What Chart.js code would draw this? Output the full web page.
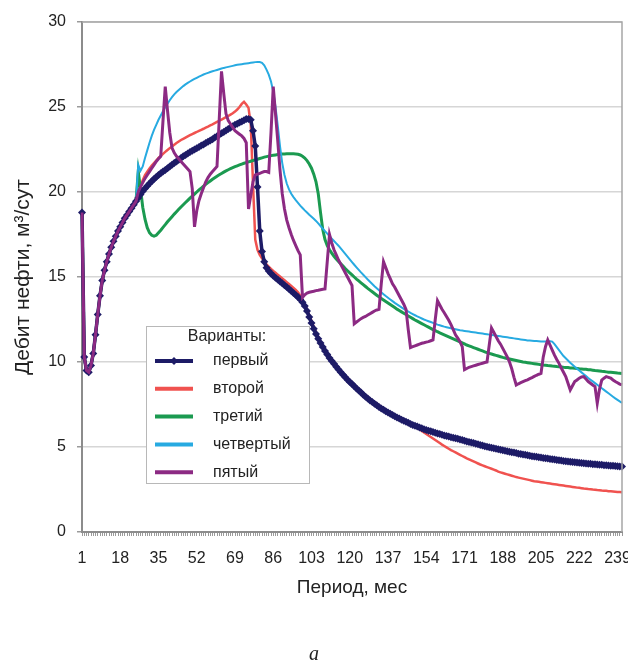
<!DOCTYPE html>
<html>
<head>
<meta charset="utf-8">
<script src="https://cdn.jsdelivr.net/npm/chart.js@4/dist/chart.umd.min.js"></script>
<style>
  html, body { margin: 0; padding: 0; background: #fff; }
  #wrap { width: 628px; height: 662px; }
</style>
</head>
<body>
<div id="wrap"><canvas id="debit" width="628" height="662"></canvas></div>
<script>
// месяцы 1..241, подписи через каждые 17
const months = Array.from({ length: 241 }, (_, i) => String(i + 1));
const tickMonths = ['1', '18', '35', '52', '69', '86', '103', '120', '137', '154', '171', '188', '205', '222', '239'];

// общий участок всех вариантов (мес 1-25)
const commonStart = [
  18.8, 10.3, 9.5, 9.4, 9.8, 10.5, 11.6, 12.8, 13.9, 14.8,
  15.4, 15.9, 16.35, 16.75, 17.1, 17.4, 17.7, 17.95, 18.2, 18.45,
  18.65, 18.85, 19.05, 19.25, 19.45
];

// дальше (мес 26-241) по вариантам
const variant1 = [
  19.65, 19.85, 20.05, 20.2, 20.35, 20.5, 20.63, 20.76, 20.88, 21.0,
  21.1, 21.2, 21.3, 21.4, 21.5, 21.6, 21.7, 21.8, 21.9, 22.0,
  22.1, 22.18, 22.27, 22.35, 22.43, 22.5, 22.58, 22.65, 22.73, 22.8,
  22.88, 22.96, 23.03, 23.11, 23.2, 23.28, 23.37, 23.45, 23.53, 23.62,
  23.7, 23.78, 23.87, 23.95, 24.02, 24.09, 24.15, 24.22, 24.3, 24.3,
  24.25, 23.6, 22.7, 20.3, 17.7, 16.5, 15.9, 15.55, 15.35, 15.2,
  15.08, 14.96, 14.85, 14.74, 14.63, 14.52, 14.41, 14.3, 14.18, 14.06,
  13.94, 13.82, 13.68, 13.52, 13.3, 13.0, 12.65, 12.3, 11.95, 11.65,
  11.37, 11.12, 10.88, 10.65, 10.44, 10.24, 10.06, 9.89, 9.72, 9.56,
  9.4, 9.25, 9.1, 8.96, 8.83, 8.7, 8.57, 8.44, 8.32, 8.2,
  8.08, 7.96, 7.85, 7.74, 7.64, 7.54, 7.45, 7.36, 7.27, 7.19,
  7.11, 7.03, 6.95, 6.88, 6.81, 6.74, 6.67, 6.6, 6.54, 6.48,
  6.42, 6.36, 6.3, 6.25, 6.2, 6.15, 6.1, 6.05, 6.0, 5.96,
  5.92, 5.88, 5.84, 5.8, 5.76, 5.72, 5.68, 5.65, 5.62, 5.58,
  5.55, 5.51, 5.48, 5.44, 5.41, 5.37, 5.33, 5.30, 5.26, 5.23,
  5.19, 5.16, 5.12, 5.09, 5.05, 5.02, 4.99, 4.96, 4.93, 4.90,
  4.87, 4.84, 4.81, 4.78, 4.75, 4.72, 4.69, 4.67, 4.64, 4.61,
  4.59, 4.56, 4.54, 4.51, 4.49, 4.46, 4.44, 4.42, 4.40, 4.38,
  4.36, 4.34, 4.32, 4.30, 4.28, 4.26, 4.24, 4.22, 4.20, 4.18,
  4.16, 4.15, 4.13, 4.12, 4.10, 4.09, 4.07, 4.06, 4.05, 4.03,
  4.02, 4.01, 3.99, 3.98, 3.97, 3.96, 3.95, 3.93, 3.92, 3.91,
  3.90, 3.89, 3.88, 3.87, 3.86, 3.85
];

const variant2 = [
  19.95, 20.35, 20.7, 21.0, 21.2, 21.38, 21.55, 21.7, 21.85, 22.0,
  22.12, 22.24, 22.36, 22.47, 22.58, 22.68, 22.78, 22.88, 22.97, 23.06,
  23.13, 23.2, 23.27, 23.34, 23.41, 23.47, 23.53, 23.6, 23.66, 23.72,
  23.79, 23.85, 23.92, 23.98, 24.05, 24.12, 24.19, 24.26, 24.33, 24.4,
  24.47, 24.55, 24.63, 24.73, 24.85, 25.0, 25.18, 25.3, 25.15, 24.95,
  24.0, 20.5, 17.2, 16.6, 16.3, 16.1, 15.9, 15.75, 15.6, 15.48,
  15.36, 15.25, 15.14, 15.03, 14.92, 14.81, 14.7, 14.59, 14.48, 14.36,
  14.24, 14.1, 13.9, 13.65, 13.4, 13.1, 12.76, 12.41, 12.06, 11.76,
  11.48, 11.22, 10.98, 10.75, 10.54, 10.34, 10.16, 9.99, 9.82, 9.66,
  9.5, 9.35, 9.2, 9.06, 8.93, 8.8, 8.67, 8.54, 8.42, 8.3,
  8.18, 8.06, 7.95, 7.84, 7.74, 7.64, 7.55, 7.46, 7.37, 7.28,
  7.2, 7.12, 7.04, 6.96, 6.89, 6.81, 6.74, 6.67, 6.6, 6.53,
  6.46, 6.38, 6.3, 6.22, 6.13, 6.04, 5.95, 5.86, 5.77, 5.68,
  5.59, 5.5, 5.41, 5.32, 5.23, 5.14, 5.06, 4.98, 4.9, 4.82,
  4.75, 4.68, 4.61, 4.54, 4.47, 4.4, 4.33, 4.27, 4.21, 4.15,
  4.09, 4.03, 3.97, 3.92, 3.87, 3.82, 3.77, 3.72, 3.67, 3.62,
  3.55, 3.51, 3.47, 3.43, 3.39, 3.35, 3.31, 3.27, 3.23, 3.2,
  3.17, 3.14, 3.11, 3.08, 3.05, 3.02, 2.99, 2.97, 2.95, 2.93,
  2.91, 2.89, 2.87, 2.85, 2.83, 2.81, 2.79, 2.77, 2.75, 2.73,
  2.71, 2.69, 2.67, 2.65, 2.63, 2.61, 2.6, 2.58, 2.56, 2.55,
  2.53, 2.52, 2.5, 2.49, 2.47, 2.46, 2.44, 2.43, 2.42, 2.4,
  2.39, 2.38, 2.37, 2.36, 2.35, 2.34
];

const variant3 = [
  21.2, 20.2, 19.1, 18.4, 17.9, 17.6, 17.45, 17.4, 17.45, 17.6,
  17.75, 17.92, 18.08, 18.25, 18.4, 18.55, 18.7, 18.84, 18.98, 19.12,
  19.25, 19.38, 19.51, 19.64, 19.76, 19.88, 20.0, 20.12, 20.23, 20.34,
  20.45, 20.55, 20.65, 20.75, 20.84, 20.93, 21.01, 21.09, 21.17, 21.24,
  21.31, 21.37, 21.43, 21.49, 21.54, 21.59, 21.64, 21.69, 21.73, 21.77,
  21.81, 21.85, 21.89, 21.93, 21.97, 22.01, 22.05, 22.08, 22.11, 22.14,
  22.16, 22.18, 22.2, 22.22, 22.23, 22.24, 22.25, 22.25, 22.25, 22.25,
  22.24, 22.22, 22.18, 22.1, 22.0, 21.85, 21.65, 21.4, 21.05, 20.6,
  19.9, 18.8, 17.8, 17.2, 16.85, 16.6, 16.4, 16.22, 16.06, 15.92,
  15.78, 15.64, 15.5, 15.37, 15.24, 15.12, 15.0, 14.88, 14.77, 14.66,
  14.55, 14.44, 14.33, 14.23, 14.13, 14.03, 13.93, 13.83, 13.74, 13.65,
  13.56, 13.47, 13.38, 13.29, 13.2, 13.11, 13.03, 12.95, 12.87, 12.79,
  12.71, 12.63, 12.55, 12.47, 12.4, 12.33, 12.26, 12.19, 12.12, 12.05,
  11.98, 11.91, 11.85, 11.78, 11.72, 11.66, 11.6, 11.54, 11.48, 11.42,
  11.36, 11.3, 11.24, 11.18, 11.12, 11.06, 11.0, 10.95, 10.9, 10.85,
  10.8, 10.75, 10.7, 10.65, 10.6, 10.55, 10.51, 10.47, 10.43, 10.39,
  10.35, 10.31, 10.27, 10.24, 10.21, 10.18, 10.15, 10.12, 10.09, 10.06,
  10.03, 10.0, 9.98, 9.96, 9.94, 9.92, 9.9, 9.88, 9.86, 9.84,
  9.82, 9.81, 9.79, 9.78, 9.76, 9.75, 9.73, 9.72, 9.71, 9.69,
  9.68, 9.67, 9.65, 9.64, 9.63, 9.62, 9.6, 9.59, 9.58, 9.57,
  9.55, 9.54, 9.52, 9.5, 9.49, 9.47, 9.45, 9.44, 9.42, 9.4,
  9.39, 9.38, 9.37, 9.35, 9.34, 9.33
];

const variant4 = [
  21.6, 21.25, 21.5, 22.0, 22.45, 22.9, 23.3, 23.65, 23.95, 24.25,
  24.5, 24.75, 25.0, 25.2, 25.4, 25.58, 25.74, 25.88, 26.0, 26.12,
  26.23, 26.33, 26.42, 26.5, 26.58, 26.65, 26.72, 26.79, 26.85, 26.91,
  26.96, 27.01, 27.06, 27.1, 27.14, 27.18, 27.22, 27.26, 27.3, 27.33,
  27.36, 27.39, 27.42, 27.45, 27.48, 27.5, 27.52, 27.54, 27.56, 27.58,
  27.6, 27.62, 27.64, 27.65, 27.65, 27.6, 27.45, 27.2, 26.9, 26.5,
  25.9, 25.0, 23.9, 22.7, 21.7, 21.0, 20.5, 20.15, 19.9, 19.7,
  19.52, 19.36, 19.2, 19.06, 18.92, 18.79, 18.66, 18.54, 18.42, 18.3,
  18.15, 18.0, 17.85, 17.7, 17.55, 17.4, 17.26, 17.12, 16.98, 16.84,
  16.68, 16.52, 16.36, 16.2, 16.04, 15.88, 15.72, 15.57, 15.42, 15.27,
  15.13, 14.99, 14.85, 14.72, 14.59, 14.46, 14.34, 14.22, 14.1, 13.99,
  13.88, 13.78, 13.68, 13.58, 13.48, 13.39, 13.3, 13.21, 13.13, 13.05,
  12.97, 12.89, 12.82, 12.75, 12.68, 12.62, 12.56, 12.5, 12.45, 12.4,
  12.35, 12.3, 12.25, 12.2, 12.16, 12.12, 12.08, 12.05, 12.02, 11.99,
  11.96, 11.93, 11.9, 11.87, 11.85, 11.83, 11.81, 11.79, 11.77, 11.75,
  11.73, 11.71, 11.69, 11.67, 11.65, 11.63, 11.61, 11.59, 11.57, 11.55,
  11.53, 11.51, 11.49, 11.47, 11.45, 11.43, 11.41, 11.39, 11.37, 11.35,
  11.33, 11.31, 11.29, 11.27, 11.26, 11.25, 11.24, 11.23, 11.22, 11.21,
  11.21, 11.21, 11.22, 11.22, 11.2, 11.05, 10.88, 10.7, 10.52, 10.35,
  10.22, 10.09, 9.96, 9.84, 9.72, 9.61, 9.5, 9.39, 9.28, 9.17,
  9.06, 8.96, 8.86, 8.76, 8.66, 8.56, 8.46, 8.36, 8.26, 8.16,
  8.06, 7.96, 7.86, 7.77, 7.68, 7.6
];

const variant5 = [
  20.0, 20.3, 20.55, 20.8, 21.0, 21.2, 21.4, 21.6, 21.8, 21.95,
  22.1, 24.2, 26.2, 24.8, 23.5, 22.6, 22.3, 22.1, 21.95, 21.8,
  21.65, 21.5, 21.35, 21.2, 20.2, 17.95, 18.9, 19.5, 19.9, 20.25,
  20.6, 20.85, 21.05, 21.2, 21.35, 21.5, 24.3, 27.1, 25.8, 24.6,
  24.2, 24.0, 23.8, 23.6, 23.5, 23.4, 23.3, 23.15, 22.9, 19.0,
  19.8, 20.6, 21.0, 21.05, 21.1, 21.15, 21.2, 21.2, 21.15, 23.5,
  26.2, 24.6, 23.0, 21.3, 19.9, 19.0, 18.35, 17.9, 17.5, 17.15,
  16.85, 16.55, 16.3, 13.8, 13.95, 14.05, 14.1, 14.13, 14.16, 14.2,
  14.22, 14.25, 14.28, 14.3, 15.9, 17.5, 17.0, 16.6, 16.3, 16.0,
  15.75, 15.5, 15.25, 15.0, 14.75, 14.5, 12.25, 12.35, 12.45, 12.55,
  12.62, 12.68, 12.76, 12.84, 12.92, 13.0, 13.06, 13.1, 14.6, 15.9,
  15.55, 15.2, 14.9, 14.6, 14.4, 14.15, 13.9, 13.65, 13.4, 13.1,
  11.9, 10.85, 10.9, 10.95, 11.0, 11.05, 11.1, 11.13, 11.17, 11.2,
  11.25, 11.3, 12.5, 13.6, 13.35, 13.1, 12.9, 12.67, 12.45, 12.2,
  11.9, 11.6, 11.4, 11.2, 10.9, 9.55, 9.62, 9.69, 9.73, 9.77,
  9.81, 9.85, 9.89, 9.93, 9.97, 10.0, 11.0, 12.0, 11.75, 11.5,
  11.25, 11.05, 10.8, 10.55, 10.3, 10.0, 9.6, 9.1, 8.65, 8.72,
  8.78, 8.84, 8.9, 8.95, 9.02, 9.08, 9.15, 9.22, 9.28, 9.33,
  10.3, 10.9, 11.3, 11.0, 10.7, 10.4, 10.15, 9.92, 9.65, 9.4,
  9.14, 8.75, 8.35, 8.6, 8.85, 8.94, 9.05, 9.12, 9.14, 9.0,
  8.85, 8.75, 8.65, 8.55, 7.57, 8.4, 8.94, 9.05, 9.14, 9.1,
  9.05, 8.94, 8.85, 8.78, 8.7, 8.65
];

const seriesNames = ['первый', 'второй', 'третий', 'четвертый', 'пятый'];
const seriesColors = ['#1d1b66', '#f0524f', '#1b9a50', '#27aae1', '#8c2a83'];

const FONT = '"Liberation Sans", Arial, sans-serif';

// рамка области построения и легенда внутри неё
const plotFrame = {
  id: 'plotFrame',
  afterDatasetsDraw(chart) {
    const { ctx, chartArea: a } = chart;
    ctx.save();
    ctx.strokeStyle = '#a6a6a6';
    ctx.lineWidth = 1.5;
    ctx.beginPath();
    ctx.moveTo(a.left, a.top);
    ctx.lineTo(a.right, a.top);
    ctx.lineTo(a.right, a.bottom);
    ctx.stroke();
    ctx.restore();
  },
  afterDraw(chart) {
    const ctx = chart.ctx;
    ctx.save();
    ctx.fillStyle = '#fff';
    ctx.fillRect(146, 326, 163, 157);
    ctx.strokeStyle = '#b8b8b8';
    ctx.lineWidth = 1;
    ctx.strokeRect(146.5, 326.5, 163, 157);

    ctx.font = '16px ' + FONT;
    ctx.fillStyle = '#222';
    ctx.textBaseline = 'middle';
    ctx.textAlign = 'center';
    ctx.fillText('Варианты:', 227, 337);
    ctx.textAlign = 'left';
    chart.data.datasets.forEach((ds, i) => {
      const y = 361 + i * 27.8;
      ctx.strokeStyle = ds.borderColor;
      ctx.lineWidth = 4;
      ctx.beginPath();
      ctx.moveTo(155, y);
      ctx.lineTo(193, y);
      ctx.stroke();
      if (ds.pointRadius > 0) {
        ctx.fillStyle = ds.borderColor;
        ctx.beginPath();
        ctx.moveTo(174, y - 4);
        ctx.lineTo(178, y);
        ctx.lineTo(174, y + 4);
        ctx.lineTo(170, y);
        ctx.closePath();
        ctx.fill();
      }
      ctx.fillStyle = '#222';
      ctx.fillText(ds.label, 213, y);
    });

    // подпись рисунка
    ctx.font = 'italic 20px "Liberation Serif", "DejaVu Serif", serif';
    ctx.textAlign = 'center';
    ctx.fillText('а', 314, 655);
    ctx.restore();
  }
};

const tails = [variant1, variant2, variant3, variant4, variant5];
const widths = [3.5, 2.5, 3, 2, 3];
const drawOrder = [2, 5, 4, 3, 1];

const datasets = tails.map((tail, i) => ({
  label: seriesNames[i],
  data: commonStart.concat(tail),
  borderColor: seriesColors[i],
  backgroundColor: seriesColors[i],
  borderWidth: widths[i],
  pointRadius: i === 0 ? 4 : 0,
  pointStyle: 'rectRot',
  pointBorderWidth: 0,
  tension: 0,
  order: drawOrder[i],
  fill: false
}));

new Chart(document.getElementById('debit'), {
  type: 'line',
  data: { labels: months, datasets: datasets },
  options: {
    responsive: false,
    animation: false,
    events: [],
    layout: { padding: { left: 0, top: 22, right: 6, bottom: 0 } },
    plugins: {
      legend: { display: false },
      tooltip: { enabled: false }
    },
    scales: {
      x: {
        type: 'category',
        offset: false,
        afterFit(scale) {
          scale.height = 130;
          scale.paddingLeft = 0;
          scale.paddingRight = 0;
        },
        border: { color: '#8c8c8c', width: 2 },
        grid: {
          drawOnChartArea: false,
          drawTicks: true,
          tickLength: 4,
          tickColor: '#9a9a9a',
          lineWidth: 1
        },
        ticks: {
          autoSkip: false,
          maxRotation: 0,
          padding: 13,
          color: '#222',
          font: { family: FONT, size: 16 },
          callback(value) {
            const lab = this.getLabelForValue(value);
            return tickMonths.includes(lab) ? lab : '';
          }
        },
        title: {
          display: true,
          text: 'Период, мес',
          color: '#222',
          font: { family: FONT, size: 19 },
          padding: { top: 0, bottom: 63 }
        }
      },
      y: {
        min: 0,
        max: 30,
        afterFit(scale) { scale.width = 82; },
        border: { color: '#8c8c8c', width: 2 },
        grid: {
          color: ctx => ctx.tick.value === 0 ? 'rgba(0,0,0,0)' : '#d6d6d6',
          lineWidth: 1.5,
          tickLength: 5,
          tickColor: '#9a9a9a'
        },
        ticks: {
          stepSize: 5,
          padding: 11,
          color: '#222',
          font: { family: FONT, size: 16 }
        },
        title: {
          display: true,
          text: 'Дебит нефти, м³/сут',
          color: '#222',
          font: { family: FONT, size: 21 },
          padding: { top: 11, bottom: 0 }
        }
      }
    }
  },
  plugins: [plotFrame]
});
</script>
</body>
</html>
